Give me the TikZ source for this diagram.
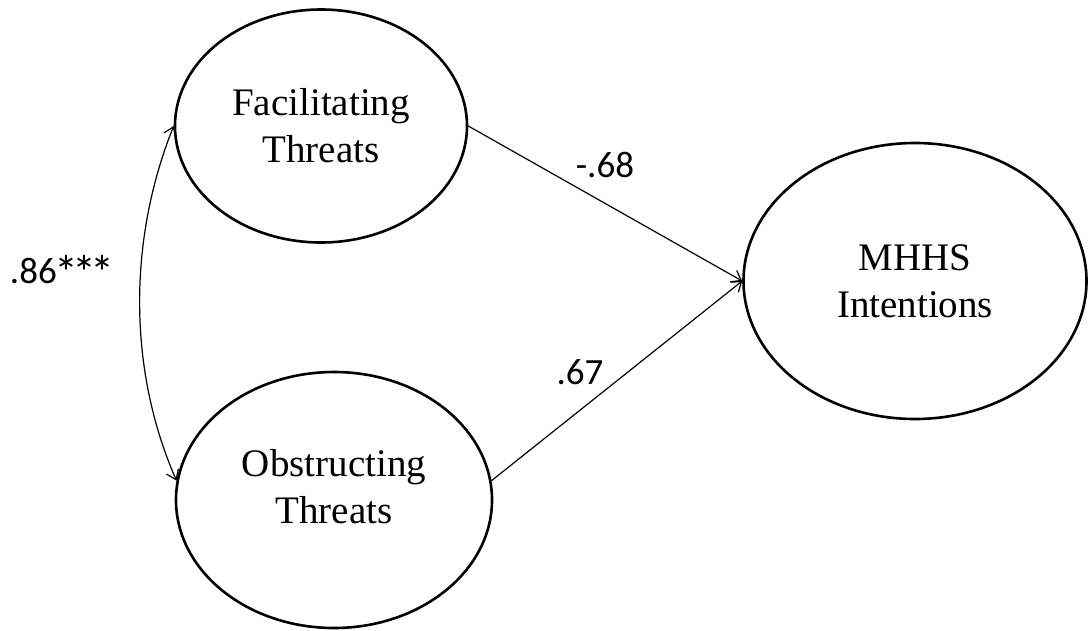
\documentclass[tikz,border=0pt]{standalone}
\usepackage{fontspec}
\setmainfont{Liberation Serif}
\newfontfamily\lblfont{Carlito}
\usetikzlibrary{arrows.meta,shapes.geometric}
\newcommand\lblast{\makebox[18.4pt]{\raisebox{-6pt}{\scalebox{1.3}{*}}}}
\begin{document}
\begin{tikzpicture}[x=1pt,y=-1pt,
  latent/.style={draw, ellipse, line width=2.6pt, inner sep=0pt, align=center,
    font=\fontsize{39}{47}\selectfont},
  conn/.style={line width=1.2pt, -{Straight Barb[length=9pt,width=13pt,line width=1.2pt]}},
  corr/.style={line width=1.2pt, {Straight Barb[length=9pt,width=13pt,line width=1.2pt]}-{Straight Barb[length=9pt,width=13pt,line width=1.2pt]}},
  lbl/.style={font=\lblfont\fontsize{37}{40}\selectfont, inner sep=0pt}]
\useasboundingbox (0,0) rectangle (1089,630);
\node[latent, minimum width=292pt, minimum height=233pt] (fac) at (321,126) {Facilitating\\Threats};
\node[latent, minimum width=316pt, minimum height=256pt,
  label={[align=center, font=\fontsize{39}{47}\selectfont, yshift=13pt]center:Obstructing\\Threats}] (obs) at (334,500) {};
\node[latent, minimum width=343pt, minimum height=276pt] (mhhs) at (915,281) {MHHS\\Intentions};
\draw[conn] (fac.east) -- (mhhs.west);
\draw[conn] (obs.7) -- (mhhs.west);
\draw[corr] (fac.west) .. controls (128,240) and (128,370) .. (obs.173);
\node[lbl] (l1) at (605,165) {-.68};
\node[lbl] (l2) at (580,372) {.67};
\node[lbl] (l3) at (61,272) {.86\lblast\lblast\lblast};
\end{tikzpicture}
\end{document}
